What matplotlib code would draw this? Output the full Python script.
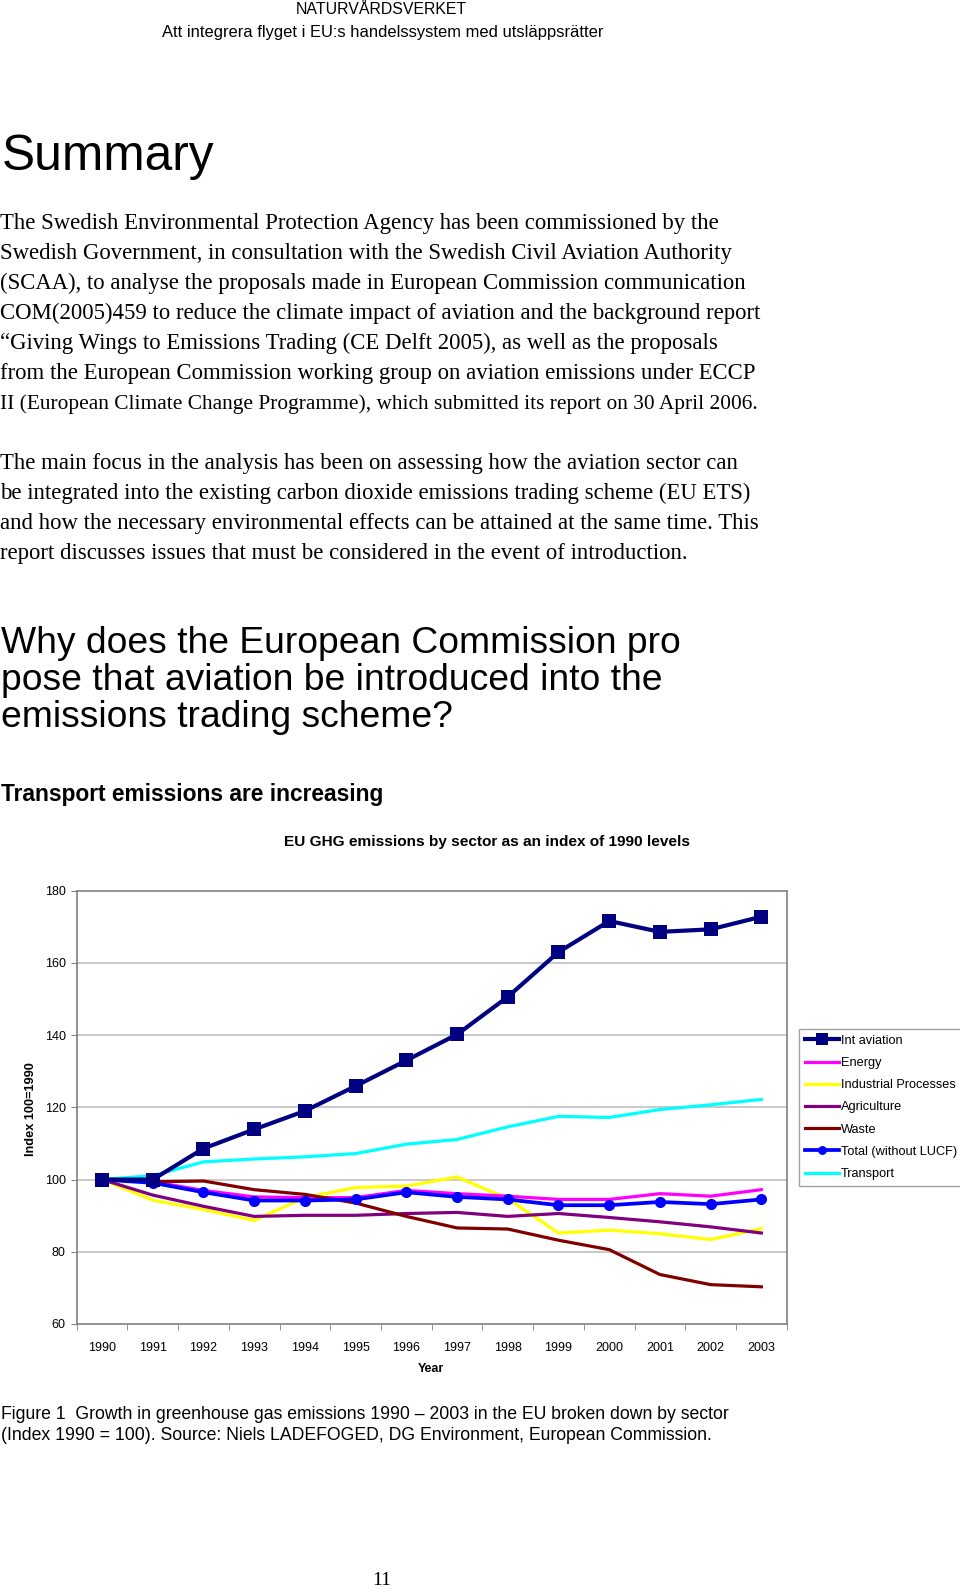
import numpy as np
import matplotlib
matplotlib.use("Agg")
import matplotlib.pyplot as plt
from matplotlib.lines import Line2D

W, H = 960, 1589
SANS = "Liberation Sans"
SERIF = "Liberation Serif"

###############################################################################

years = ["1990", "1991", "1992", "1993", "1994", "1995", "1996",
         "1997", "1998", "1999", "2000", "2001", "2002", "2003"]

int_aviation = [100, 100, 108.6, 113.9, 119.0, 125.9, 133.0,
                140.2, 150.6, 163.0, 171.6, 168.6, 169.3, 172.8]
energy = [100, 99.4, 97.0, 95.2, 95.0, 95.0, 97.0,
          96.1, 95.4, 94.5, 94.5, 96.1, 95.4, 97.2]
industrial = [100, 94.3, 91.7, 88.7, 95.0, 97.8, 98.2,
              100.7, 94.7, 85.2, 86.0, 85.0, 83.4, 86.4]
agriculture = [100, 95.7, 92.6, 89.8, 90.1, 90.1, 90.6,
               90.9, 89.8, 90.6, 89.5, 88.3, 86.9, 85.2]
waste = [100, 99.4, 99.6, 97.2, 95.9, 93.5, 89.8,
         86.6, 86.3, 83.2, 80.6, 73.7, 70.9, 70.3]
total = [100, 99.1, 96.5, 94.2, 94.2, 94.5, 96.5,
         95.2, 94.5, 92.9, 92.9, 93.8, 93.2, 94.5]
transport = [100, 101.1, 104.9, 105.7, 106.3, 107.2, 109.8,
             111.1, 114.6, 117.5, 117.2, 119.4, 120.7, 122.2]

y_ticks = [60, 80, 100, 120, 140, 160, 180]

para1 = [
    "The Swedish Environmental Protection Agency has been commissioned by the",
    "Swedish Government, in consultation with the Swedish Civil Aviation Authority",
    "(SCAA), to analyse the proposals made in European Commission communication",
    "COM(2005)459 to reduce the climate impact of aviation and the background report",
    "\u201cGiving Wings to Emissions Trading (CE Delft 2005), as well as the proposals",
    "from the European Commission working group on aviation emissions under ECCP",
    "II (European Climate Change Programme), which submitted its report on 30 April 2006.",
]
para2 = [
    "The main focus in the analysis has been on assessing how the aviation sector can",
    "be integrated into the existing carbon dioxide emissions trading scheme (EU ETS)",
    "and how the necessary environmental effects can be attained at the same time. This",
    "report discusses issues that must be considered in the event of introduction.",
]
heading = [
    "Why does the European Commission pro",
    "pose that aviation be introduced into the",
    "emissions trading scheme?",
]
caption = [
    "Figure 1  Growth in greenhouse gas emissions 1990 \u2013 2003 in the EU broken down by sector",
    "(Index 1990 = 100). Source: Niels LADEFOGED, DG Environment, European Commission.",
]

###############################################################################

fig = plt.figure(figsize=(W / 100, H / 100), dpi=100)
fig.patch.set_facecolor("white")
renderer = fig.canvas.get_renderer()


def put(x, y, s, size, family=SANS, width=None, **kw):
    # x, y in pixels from top-left, y is the baseline
    t = fig.text(x / W, 1 - y / H, s, fontsize=size, family=family,
                 va="baseline", **kw)
    if width is not None:
        w = t.get_window_extent(renderer).width
        t.set_fontsize(size * width / w)
    return t


def fitted_size(s, size, family, width, **kw):
    t = fig.text(0, 0, s, fontsize=size, family=family, **kw)
    w = t.get_window_extent(renderer).width
    t.remove()
    return size * width / w


# page header
put(381, 14.5, "NATURVÅRDSVERKET", 9.5, width=173, ha="center")
put(383, 36.5, "Att integrera flyget i EU:s handelssystem med utsläppsrätter",
    10, width=441, ha="center")

put(2, 170, "Summary", 37, width=212)

# body paragraphs, one common size
body_size = np.median([
    fitted_size(para1[0], 16, SERIF, 720),
    fitted_size(para1[3], 16, SERIF, 759),
    fitted_size(para2[0], 16, SERIF, 737),
    fitted_size(para2[2], 16, SERIF, 758),
])
for i, line in enumerate(para1):
    if i == len(para1) - 1:
        put(0, 229.3 + 30 * i, line, body_size, family=SERIF, width=757)
    else:
        put(0, 229.3 + 30 * i, line, body_size, family=SERIF)
for i, line in enumerate(para2):
    put(0, 469.3 + 30 * i, line, body_size, family=SERIF)

head_size = fitted_size(heading[1], 24, SANS, 661)
for i, line in enumerate(heading):
    put(1, 653.3 + 37 * i, line, head_size)

put(1, 800.7, "Transport emissions are increasing", 15, width=385,
    fontweight="bold")

put(487, 845.7, "EU GHG emissions by sector as an index of 1990 levels", 10,
    width=406, ha="center", fontweight="bold")

cap_size = fitted_size(caption[0], 13, SANS, 727)
for i, line in enumerate(caption):
    put(1, 1419 + 20.5 * i, line, cap_size)

put(382, 1585, "11", 14, family=SERIF, ha="center")

###############################################################################

ax = fig.add_axes([76.7 / W, 1 - 1324 / H, 710 / W, (1324 - 890.7) / H])
x = np.arange(len(years))

series = [
    ("Int aviation", int_aviation, "#000080", 3.0, "s", 10.5, 10),
    ("Energy", energy, "#FF00FF", 2.3, None, 0, 4),
    ("Industrial Processes", industrial, "#FFFF00", 2.3, None, 0, 3),
    ("Agriculture", agriculture, "#800080", 2.3, None, 0, 5),
    ("Waste", waste, "#800000", 2.3, None, 0, 6),
    ("Total (without LUCF)", total, "#0000FF", 2.7, "o", 8, 8),
    ("Transport", transport, "#00FFFF", 2.3, None, 0, 7),
]
handles = []
for name, vals, col, lw, mk, ms, z in series:
    ax.plot(x, vals, color=col, lw=lw, marker=mk, markersize=ms,
            markeredgewidth=0, zorder=z)
    handles.append(Line2D([], [], color=col, lw=lw, marker=mk,
                          markersize=ms * 0.8, markeredgewidth=0))

ax.set_xlim(-0.5, len(years) - 0.5)
ax.set_ylim(60, 180)
ax.set_yticks(y_ticks)
ax.set_yticklabels([str(v) for v in y_ticks], fontsize=9, family=SANS)
ax.set_xticks(x)
ax.set_xticklabels(years, fontsize=9, family=SANS)
ax.set_xticks(np.arange(-0.5, len(years)), minor=True)
ax.tick_params(axis="x", which="major", length=0, pad=13)
ax.tick_params(axis="x", which="minor", length=4, color="#808080")
ax.tick_params(axis="y", length=4, color="#808080", pad=4)
for v in y_ticks[1:-1]:
    ax.axhline(v, color="#c0c0c0", lw=1.2, zorder=1)
for sp in ax.spines.values():
    sp.set_color("#808080")
    sp.set_linewidth(1.2)

put(431, 1371.7, "Year", 9, ha="center", fontweight="bold")
fig.text(31 / W, 1 - 1109 / H, "Index 100=1990", fontsize=9.2, family=SANS,
         fontweight="bold", rotation=90, ha="center", va="center")

leg = fig.legend(handles, [s[0] for s in series],
                 loc="upper left", bbox_to_anchor=(799 / W, 1 - 1029 / H),
                 prop={"family": SANS, "size": 9.2}, frameon=True,
                 fancybox=False, edgecolor="#a0a0a0", framealpha=1,
                 handlelength=2.7, handletextpad=0.1, labelspacing=0.8,
                 borderpad=0.45, borderaxespad=0)
leg.get_frame().set_linewidth(1.0)

fig.savefig("out.png", dpi=100)
